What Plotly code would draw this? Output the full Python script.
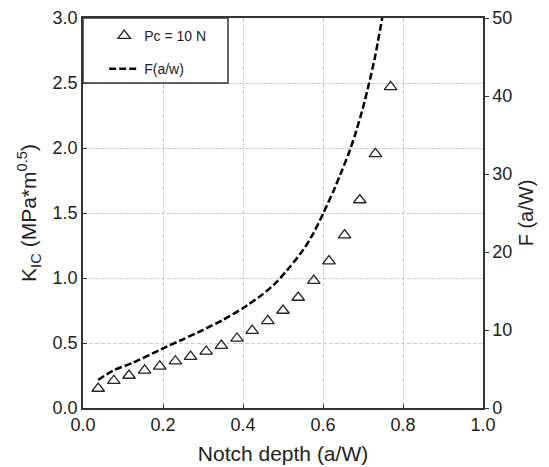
import plotly.graph_objects as go

# measured K_IC points (Pc = 10 N)
notch_depth = [0.038, 0.077, 0.115, 0.154, 0.192, 0.231, 0.269, 0.308, 0.346, 0.385,
               0.423, 0.462, 0.500, 0.538, 0.577, 0.615, 0.654, 0.692, 0.731, 0.769]
kic = [0.15, 0.21, 0.25, 0.29, 0.32, 0.36, 0.395, 0.435, 0.48, 0.535,
       0.595, 0.67, 0.75, 0.85, 0.98, 1.13, 1.33, 1.60, 1.955, 2.47]

# geometry factor curve F(a/w)
f_x = [0.038, 0.075, 0.125, 0.2, 0.25, 0.3, 0.35, 0.4, 0.45, 0.483, 0.5175,
       0.551, 0.576, 0.601, 0.626, 0.647, 0.664, 0.68, 0.70, 0.715, 0.73, 0.748]
f_val = [3.6, 4.8, 5.8, 7.65, 8.8, 10.0, 11.3, 12.8, 14.6, 16.1, 18.1,
         20.3, 22.4, 25.0, 27.8, 30.4, 32.6, 35.0, 38.5, 41.6, 45.0, 50.0]

FONT = "Liberation Sans, Arial, sans-serif"
AXIS = "#333333"
GRID = "#cccccc"

fig = go.Figure()
fig.add_trace(go.Scatter(
    x=notch_depth, y=kic, mode="markers", name="Pc = 10 N",
    legendgroup="a",
    marker=dict(symbol="triangle-up-open", size=11, color="#222222",
                line=dict(width=1.3, color="#222222")),
))
fig.add_trace(go.Scatter(
    x=f_x, y=f_val, mode="lines", name="F(a/w)", yaxis="y2",
    legendgroup="b",
    line=dict(color="black", width=2.5, dash="7px,3px", shape="spline", smoothing=0.6),
))

# legend frame
fig.add_shape(type="rect", xref="paper", yref="y", x0=0, x1=0.3625, y0=2.5, y1=3.0,
              fillcolor="white", line=dict(color=AXIS, width=1.5), layer="above")

# page body adds ~8px offset, so the figure is sized/shifted to compensate
fig.update_layout(
    width=541, height=459,
    margin=dict(l=75, r=66, t=10, b=59, autoexpand=False),
    paper_bgcolor="white", plot_bgcolor="white",
    font=dict(family=FONT, size=18, color="#222222"),
    showlegend=True,
    legend=dict(x=0.053, y=0.995, xanchor="left", yanchor="top",
                bgcolor="rgba(0,0,0,0)", borderwidth=0, itemwidth=30,
                font=dict(size=14), tracegroupgap=12),
    xaxis=dict(range=[0, 1], dtick=0.2, tickformat=".1f", automargin=False,
               showline=True, linecolor=AXIS, linewidth=1.5, mirror=True,
               ticks="inside", ticklen=4, tickcolor=AXIS,
               showgrid=True, gridcolor=GRID, griddash="4px,2px", gridwidth=1,
               zeroline=False,
               title=dict(text="Notch depth (a/W)", font=dict(size=21), standoff=12)),
    yaxis=dict(range=[0, 3], dtick=0.5, tickformat=".1f", automargin=False,
               showline=True, linecolor=AXIS, linewidth=1.5,
               ticks="inside", ticklen=4, tickcolor=AXIS,
               showgrid=True, gridcolor=GRID, griddash="4px,2px", gridwidth=1,
               zeroline=False,
               title=dict(text="K<sub>IC</sub> (MPa*m<sup>0.5</sup>)",
                          font=dict(size=21), standoff=10)),
    yaxis2=dict(range=[0, 50], dtick=10, overlaying="y", side="right", automargin=False,
                showline=True, linecolor=AXIS, linewidth=1.5,
                ticks="outside", ticklen=4, tickcolor=AXIS,
                showgrid=False, zeroline=False,
                title=dict(text="F (a/W)", font=dict(size=20), standoff=8)),
)

fig.write_html("out.html")
